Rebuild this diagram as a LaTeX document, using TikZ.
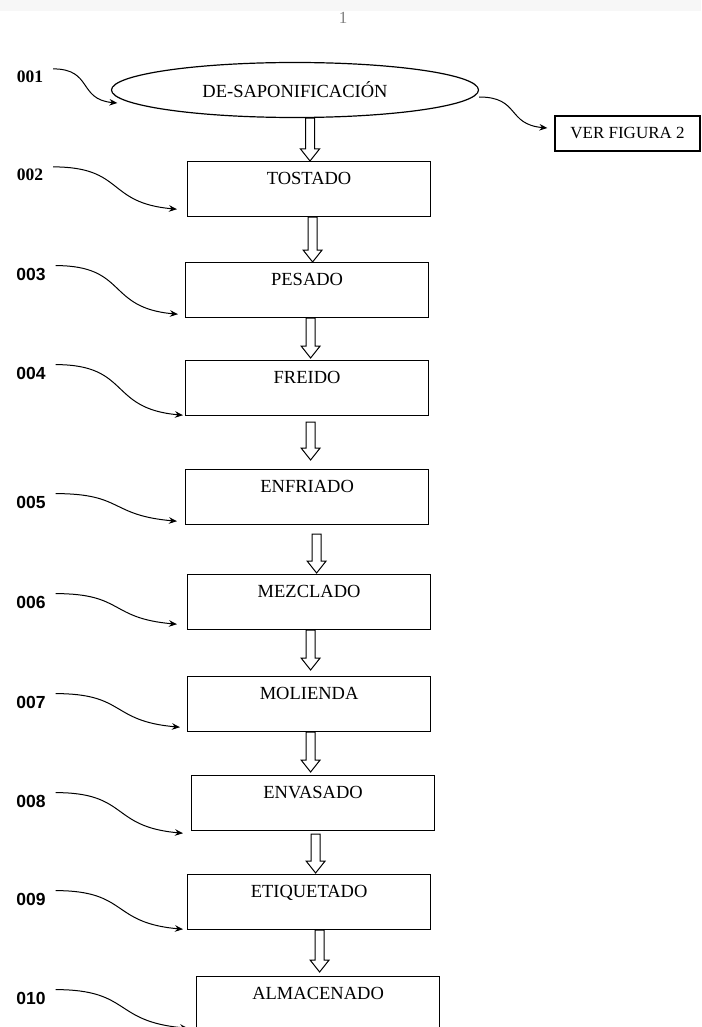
\documentclass[tikz,border=0pt]{standalone}
\usepackage{fontspec}
\setmainfont{Liberation Serif}
\setsansfont{Liberation Sans}
\usetikzlibrary{arrows.meta,shapes.geometric,calc}

\begin{document}
\begin{tikzpicture}[
  x=1pt,y=-1pt,
  box/.style={draw,line width=1.2pt,inner sep=0pt},
  proc/.style={box,anchor=north west,minimum width=243pt,inner ysep=3pt,
               text height=20pt,text depth=29pt,font=\fontsize{18.5}{20}\selectfont},
  lbl/.style={font=\fontsize{17.5}{17}\sffamily\bfseries,inner sep=2pt,outer xsep=8pt},
  lblser/.style={lbl,font=\fontsize{17.5}{17}\rmfamily\bfseries},
  wave/.style={-{Stealth[length=8pt,width=6.5pt]},line width=1pt,out=0,in=175,looseness=1.4},
  hollow/.style={draw,fill=white,line width=1pt,
    to path={let \p1=(\tikztostart),\p2=(\tikztotarget) in
      (\x1-4.5pt,\y1) -- (\x1-4.5pt,\y2+12pt) -- (\x1-9.5pt,\y2+12pt) -- (\x1,\y2)
      -- (\x1+9.5pt,\y2+12pt) -- (\x1+4.5pt,\y2+12pt) -- (\x1+4.5pt,\y1) -- cycle}}
]
\path[use as bounding box,clip] (0,0) rectangle (701,1027);
\fill[gray!6] (0,0) rectangle (701,11);
\node[font=\fontsize{17}{17}\selectfont,text=gray] (pag) at (343,18) {1};

\node[box,ellipse,minimum width=367pt,minimum height=55pt,
      font=\fontsize{18.5}{20}\selectfont] (ell) at (295,90) {DE-SAPONIFICACIÓN};
\node[box,minimum width=145pt,minimum height=35pt,
      font=\fontsize{17}{18}\selectfont] (ver) at (627.5,133.5) {VER FIGURA 2};

\node[proc] (tos) at (187,161) {TOSTADO};
\node[proc] (pes) at (185,262) {PESADO};
\node[proc] (fre) at (185,360) {FREIDO};
\node[proc] (enf) at (185,469) {ENFRIADO};
\node[proc] (mez) at (187,574) {MEZCLADO};
\node[proc] (mol) at (187,676) {MOLIENDA};
\node[proc] (env) at (191,775) {ENVASADO};
\node[proc] (eti) at (187,874) {ETIQUETADO};
\node[proc] (alm) at (196,976) {ALMACENADO};

\node[lblser] (n1) at (30,77) {001};
\node[lblser] (n2) at (30,175) {002};
\node[lbl] (n3) at (31,274) {003};
\node[lbl] (n4) at (31,373) {004};
\node[lbl] (n5) at (31,502) {005};
\node[lbl] (n6) at (31,602) {006};
\node[lbl] (n7) at (31,702) {007};
\node[lbl] (n8) at (31,801) {008};
\node[lbl] (n9) at (31,899) {009};
\node[lbl] (n10) at (31,998) {010};

\draw[hollow] ([xshift=15pt]ell.south) to (tos.north);
\draw[hollow] ([xshift=3.5pt]tos.south) to (pes.north);
\draw[hollow] ([xshift=3.5pt]pes.south) to ([yshift=2pt]fre.north);
\draw[hollow] ([xshift=3.5pt,yshift=-6pt]fre.south) to ([yshift=9pt]enf.north);
\draw[hollow] ([xshift=9.5pt,yshift=-9pt]enf.south) to ([yshift=1pt]mez.north);
\draw[hollow] ([xshift=1.5pt]mez.south) to ([yshift=6pt]mol.north);
\draw[hollow] ([xshift=1.5pt]mol.south) to ([yshift=3pt]env.north);
\draw[hollow] ([xshift=2.5pt,yshift=-3pt]env.south) to ([yshift=1pt]eti.north);
\draw[hollow] ([xshift=10.5pt]eti.south) to ([yshift=4pt]alm.north);

\draw[wave] (n1.north east) to ([xshift=6.5pt,yshift=-13pt]ell.west);
\draw[wave] ([yshift=-7pt]ell.east) to ([xshift=-7pt,yshift=5.5pt]ver.west);
\draw[wave] (n2.north east) to ([xshift=-10pt,yshift=8pt]tos.south west);
\draw[wave] (n3.north east) to ([xshift=-7pt,yshift=4pt]pes.south west);
\draw[wave] (n4.north east) to ([xshift=-2pt,yshift=1pt]fre.south west);
\draw[wave] (n5.north east) to ([xshift=-8pt,yshift=4pt]enf.south west);
\draw[wave] (n6.north east) to ([xshift=-10pt,yshift=6pt]mez.south west);
\draw[wave] (n7.north east) to ([xshift=-7pt,yshift=5pt]mol.south west);
\draw[wave] (n8.north east) to ([xshift=-8pt,yshift=-2pt]env.south west);
\draw[wave] (n9.north east) to ([xshift=-4pt,yshift=1pt]eti.south west);
\draw[wave] (n10.north east) to ([xshift=-8pt,yshift=4pt]alm.south west);
\end{tikzpicture}
\end{document}
